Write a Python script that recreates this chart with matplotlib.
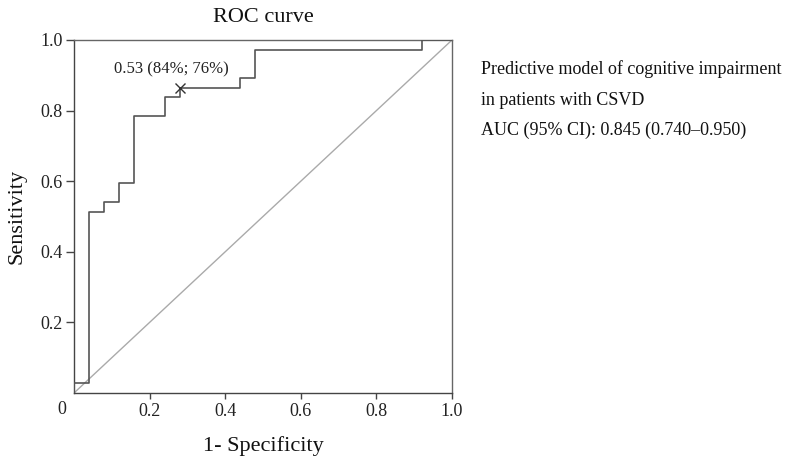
import matplotlib
matplotlib.use("Agg")
import matplotlib.pyplot as plt

# ROC step curve (1 - specificity, sensitivity)
fpr = [0.0, 0.0, 0.04, 0.08, 0.12, 0.16, 0.24, 0.28, 0.44, 0.48, 0.92, 1.0]
tpr = [0.0, 0.027, 0.514, 0.541, 0.595, 0.784, 0.838, 0.865, 0.892, 0.973, 1.0, 1.0]
cut_x, cut_y = 0.28, 0.865
cut_label = "0.53 (84%; 76%)"
xticks = [0.2, 0.4, 0.6, 0.8, 1.0]
xtick_labels = ["0.2", "0.4", "0.6", "0.8", "1.0"]
yticks = [0.2, 0.4, 0.6, 0.8, 1.0]
ytick_labels = ["0.2", "0.4", "0.6", "0.8", "1.0"]
legend_lines = ["Predictive model of cognitive impairment",
                "in patients with CSVD",
                "AUC (95% CI): 0.845 (0.740\u20130.950)"]

plt.rcParams['font.family'] = ['Liberation Serif', 'DejaVu Serif']

W, H = 794, 463
fig = plt.figure(figsize=(W / 100, H / 100), dpi=100)
ax = fig.add_axes([74 / W, 1 - 393 / H, (452 - 74) / W, (393 - 40) / H])

spine_col = "#444444"
ax.plot([0, 1], [0, 1], color="#aaaaaa", lw=1.0, zorder=2)
ax.plot(fpr, tpr, drawstyle="steps-post", color="#555555", lw=1.2, zorder=3)
ax.plot([cut_x], [cut_y], marker="x", color="#333333", ms=7, mew=1.0, zorder=4)
ax.text(cut_x - 0.022, cut_y + 0.041, cut_label, ha="center", va="baseline",
        fontsize=12, color="#222222")

ax.set_xlim(0, 1)
ax.set_ylim(0, 1)
for s in ax.spines.values():
    s.set_color(spine_col)
    s.set_linewidth(1.0)
ax.spines['top'].set_color("#666666")
ax.spines['right'].set_color("#666666")

ax.set_xticks(xticks)
ax.set_xticklabels(xtick_labels)
ax.set_yticks(yticks)
ax.set_yticklabels(ytick_labels)
ax.tick_params(axis='x', direction='out', length=4, width=1.0, color=spine_col,
               labelsize=13, labelcolor="#222222", pad=3)
ax.tick_params(axis='y', direction='out', length=6, width=1.0, color=spine_col,
               labelsize=13, labelcolor="#222222", pad=2)
ax.text(-0.033, -0.047, "0", transform=ax.transAxes, ha="center", va="center",
        fontsize=13, color="#222222")

ax.set_xlabel("1- Specificity", fontsize=16, color="#111111", labelpad=12)
ax.set_ylabel("Sensitivity", fontsize=16, color="#111111", labelpad=10)
ax.set_title("ROC curve", fontsize=16, color="#111111", pad=13)

ys = [74, 105, 135]
for line, y in zip(legend_lines, ys):
    fig.text(481 / W, 1 - y / H, line, ha="left", va="baseline", fontsize=13.0,
             color="#111111")

fig.savefig("out.png", dpi=100)
